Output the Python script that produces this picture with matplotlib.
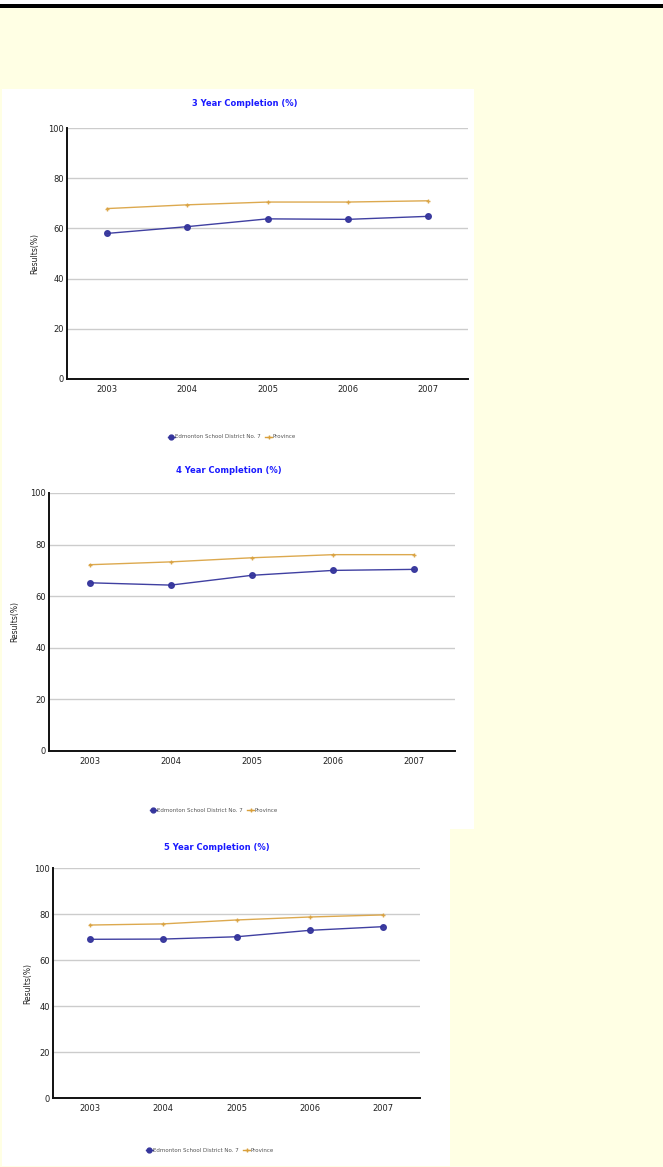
import matplotlib
matplotlib.use("Agg")
import matplotlib.pyplot as plt
from matplotlib.patches import Rectangle
from matplotlib.lines import Line2D

years = ["2003", "2004", "2005", "2006", "2007"]
yticks = [0, 20, 40, 60, 80, 100]

titles = ["3 Year Completion (%)", "4 Year Completion (%)", "5 Year Completion (%)"]
series_names = ["Edmonton School District No. 7", "Province"]

district_3yr = [58.0, 60.7, 63.8, 63.6, 64.8]
province_3yr = [67.9, 69.4, 70.5, 70.5, 71.0]

district_4yr = [65.2, 64.3, 68.1, 70.0, 70.4]
province_4yr = [72.2, 73.3, 74.9, 76.1, 76.1]

district_5yr = [69.0, 69.1, 70.1, 72.9, 74.5]
province_5yr = [75.2, 75.7, 77.4, 78.7, 79.6]

W, H = 663, 1167
fig = plt.figure(figsize=(W / 100, H / 100), dpi=100)
fig.patch.set_facecolor("#ffffe4")

def box(x0, y0, x1, y1):
    """Rectangle in pixel coordinates (origin top-left)."""
    return [x0 / W, 1 - y1 / H, (x1 - x0) / W, (y1 - y0) / H]

# page furniture: white strip and rule at the top, white chart panels
fig.patches.append(Rectangle((0, 1 - 5 / H), 1, 5 / H, transform=fig.transFigure,
                             facecolor="white", edgecolor="none", zorder=-10))
fig.patches.append(Rectangle((0, 1 - 7.5 / H), 1, 3 / H, transform=fig.transFigure,
                             facecolor="black", edgecolor="none", zorder=-9))
for x0, y0, x1, y1 in [(2, 89, 474, 829), (2, 829, 450, 1166)]:
    l, b, w, h = box(x0, y0, x1, y1)
    fig.patches.append(Rectangle((l, b), w, h, transform=fig.transFigure,
                                 facecolor="white", edgecolor="none", zorder=-10))

BLUE = "#35359c"
ORANGE = "#d9a03c"

charts = [
    dict(ax=(67, 128, 468, 379), title_y=104, title_x=245, ylab_x=35,
         legend=(168, 437), data=(district_3yr, province_3yr), title=titles[0]),
    dict(ax=(49, 493, 455, 751), title_y=470, title_x=229, ylab_x=15,
         legend=(150, 810), data=(district_4yr, province_4yr), title=titles[1]),
    dict(ax=(53, 868, 420, 1098), title_y=848, title_x=217, ylab_x=28,
         legend=(146, 1150), data=(district_5yr, province_5yr), title=titles[2]),
]

for c in charts:
    ax = fig.add_axes(box(*c["ax"]))
    ax.set_facecolor("white")
    x = list(range(len(years)))
    dist, prov = c["data"]
    ax.plot(x, prov, color=ORANGE, lw=1.0, marker="+", ms=3.2, mew=1.0, alpha=0.9, zorder=3)
    ax.plot(x, dist, color=BLUE, lw=1.0, marker="o", ms=4, alpha=0.95, zorder=4)
    ax.set_xlim(-0.5, len(years) - 0.5)
    ax.set_ylim(0, 100)
    ax.set_xticks(x)
    ax.set_xticklabels(years)
    ax.set_yticks(yticks)
    ax.set_yticklabels([str(v) for v in yticks])
    ax.tick_params(axis="both", length=0, labelsize=6, colors="#222222", pad=4)
    ax.tick_params(axis="y", pad=2)
    ax.yaxis.grid(True, color="#cccccc", lw=1)
    ax.set_axisbelow(True)
    for s in ("top", "right"):
        ax.spines[s].set_visible(False)
    for s in ("left", "bottom"):
        ax.spines[s].set_color("#111111")
        ax.spines[s].set_linewidth(1.4)

    fig.text(c["title_x"] / W, 1 - c["title_y"] / H, c["title"], color="#1a1aff",
             fontsize=6, fontweight="bold", ha="center", va="center")
    y0, y1 = c["ax"][1], c["ax"][3]
    fig.text(c["ylab_x"] / W, 1 - (y0 + y1) / 2 / H, "Results(%)", rotation=90,
             fontsize=5.5, color="#222222", ha="center", va="center")

    handles = [
        Line2D([], [], color=BLUE, marker="o", ms=3.5, lw=1),
        Line2D([], [], color=ORANGE, marker="+", ms=3.5, mew=1, lw=1),
    ]
    lx, ly = c["legend"]
    fig.legend(handles, series_names, loc="center left",
               bbox_to_anchor=(lx / W, 1 - ly / H), frameon=False, ncol=2,
               fontsize=4.0, handlelength=1.2, handletextpad=0.1,
               columnspacing=0.8, borderpad=0, borderaxespad=0,
               labelcolor="#555555")

fig.savefig("out.png", dpi=100, facecolor=fig.get_facecolor())
